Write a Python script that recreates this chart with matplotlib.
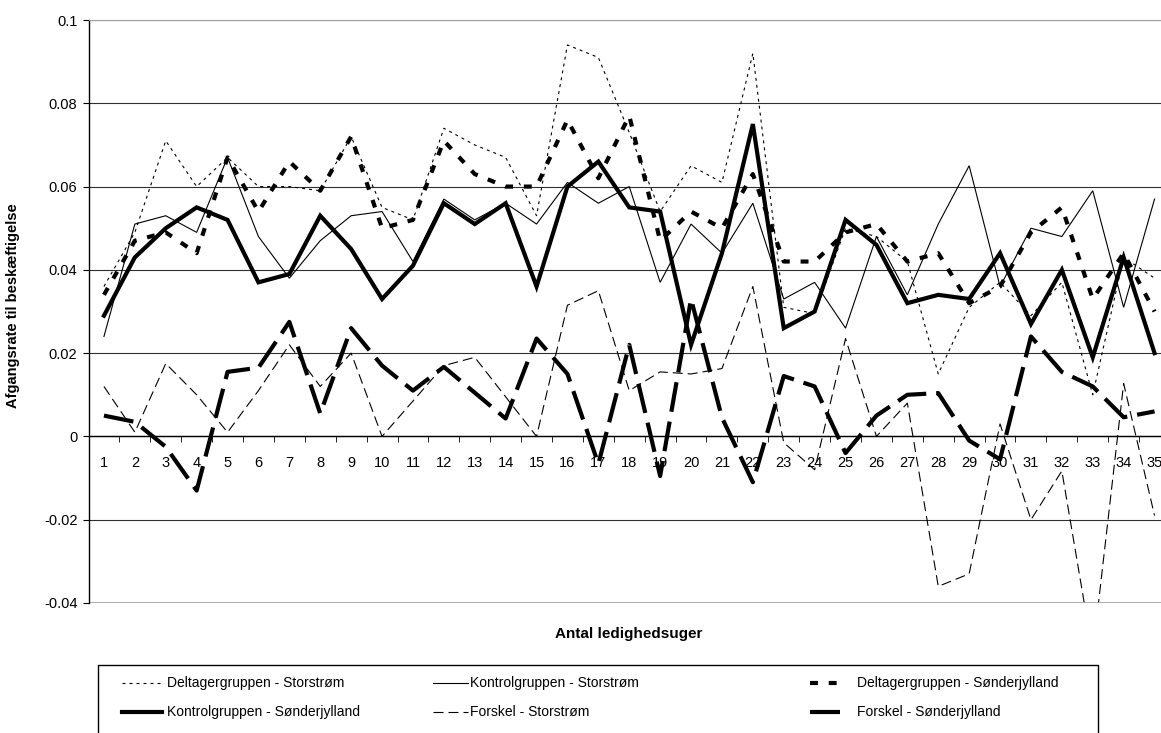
"""Afgangsrate til beskæftigelse efter antal ledighedsuger."""

import matplotlib
matplotlib.use("Agg")
import matplotlib.pyplot as plt
import numpy as np
from matplotlib.lines import Line2D
from matplotlib.patches import Rectangle

plt.rcParams["font.family"] = ["Liberation Sans", "DejaVu Sans"]

weeks = list(range(1, 36))

deltager_storstrom = [0.036, 0.049, 0.071, 0.060, 0.067, 0.060, 0.060, 0.059, 0.072, 0.055,
                      0.052, 0.074, 0.070, 0.067, 0.053, 0.094, 0.091, 0.073, 0.054, 0.065,
                      0.061, 0.092, 0.031, 0.0295, 0.050, 0.048, 0.042, 0.015, 0.031, 0.037,
                      0.029, 0.037, 0.010, 0.043, 0.038]
kontrol_storstrom = [0.024, 0.051, 0.053, 0.049, 0.067, 0.048, 0.038, 0.047, 0.053, 0.054,
                     0.042, 0.057, 0.052, 0.056, 0.051, 0.061, 0.056, 0.060, 0.037, 0.051,
                     0.044, 0.056, 0.033, 0.037, 0.026, 0.048, 0.034, 0.051, 0.065, 0.036,
                     0.050, 0.048, 0.059, 0.031, 0.057]
deltager_sonderjylland = [0.034, 0.047, 0.049, 0.044, 0.067, 0.054, 0.066, 0.059, 0.072, 0.050,
                          0.052, 0.071, 0.063, 0.060, 0.060, 0.076, 0.062, 0.077, 0.047, 0.054,
                          0.050, 0.063, 0.042, 0.042, 0.049, 0.051, 0.042, 0.044, 0.032, 0.036,
                          0.049, 0.055, 0.033, 0.044, 0.030]
kontrol_sonderjylland = [0.029, 0.043, 0.050, 0.055, 0.052, 0.037, 0.039, 0.053, 0.045, 0.033,
                         0.041, 0.056, 0.051, 0.056, 0.036, 0.060, 0.066, 0.055, 0.054, 0.022,
                         0.044, 0.075, 0.026, 0.030, 0.052, 0.046, 0.032, 0.034, 0.033, 0.044,
                         0.027, 0.040, 0.019, 0.043, 0.020]
forskel_storstrom = [0.012, 0.001, 0.0175, 0.010, 0.001, 0.011, 0.022, 0.012, 0.020, 0.000,
                     0.0085, 0.017, 0.019, 0.0095, 0.000, 0.0315, 0.035, 0.011, 0.0155, 0.015,
                     0.0163, 0.036, -0.0015, -0.008, 0.0235, 0.000, 0.008, -0.036, -0.033, 0.003,
                     -0.020, -0.0083, -0.052, 0.0127, -0.019]
forskel_sonderjylland = [0.005, 0.0035, -0.0025, -0.013, 0.0155, 0.0165, 0.0275, 0.0055, 0.026, 0.017,
                         0.011, 0.0167, 0.0105, 0.0043, 0.0235, 0.015, -0.0066, 0.022, -0.0095, 0.033,
                         0.0045, -0.011, 0.0145, 0.012, -0.004, 0.005, 0.010, 0.0104, -0.001, -0.0055,
                         0.024, 0.0155, 0.012, 0.0046, 0.006]

y_ticks = [-0.04, -0.02, 0, 0.02, 0.04, 0.06, 0.08, 0.1]
y_tick_labels = ["-0.04", "-0.02", "0", "0.02", "0.04", "0.06", "0.08", "0.1"]

series = [
    ("Deltagergruppen - Storstrøm", deltager_storstrom, dict(lw=0.8, dashes=(2.7, 3.6))),
    ("Kontrolgruppen - Storstrøm", kontrol_storstrom, dict(lw=0.8)),
    ("Deltagergruppen - Sønderjylland", deltager_sonderjylland, dict(lw=3.0, dashes=(1.9, 2.6))),
    ("Kontrolgruppen - Sønderjylland", kontrol_sonderjylland, dict(lw=3.0)),
    ("Forskel - Storstrøm", forskel_storstrom, dict(lw=0.8, dashes=(9, 4.5))),
    ("Forskel - Sønderjylland", forskel_sonderjylland, dict(lw=3.0, dashes=(7.2, 2.4))),
]

W, H = 1161, 733
fig = plt.figure(figsize=(W / 100, H / 100), dpi=100)


def fx(px):
    return px / W


def fy(py):
    return 1 - py / H


ax = fig.add_axes([fx(88.5), fy(603), fx(1081.5), 583 / H])

for name, values, style in series:
    ax.plot(weeks, values, color="black", label=name, solid_joinstyle="miter", **style)

ax.set_xlim(0.5, 35.5)
ax.set_ylim(-0.04, 0.1)
ax.set_yticks(y_ticks)
ax.set_yticklabels(y_tick_labels)
ax.set_xticks(weeks)
ax.set_xticks(np.arange(0.5, 36, 1), minor=True)

ax.spines["bottom"].set_position(("data", 0))
ax.spines["right"].set_visible(False)
ax.spines["top"].set_color("#a0a0a0")
ax.spines["left"].set_linewidth(1.0)
ax.spines["bottom"].set_linewidth(1.0)
ax.axhline(-0.04, color="#a0a0a0", lw=1.2, zorder=2.5)

ax.yaxis.grid(True, color="#303030", lw=0.8)
ax.tick_params(axis="y", direction="out", length=4, pad=4, labelsize=10.5)
ax.tick_params(axis="x", which="major", length=0, pad=14, labelsize=10.5)
ax.tick_params(axis="x", which="minor", direction="out", length=4.5)

ax.set_ylabel("Afgangsrate til beskæftigelse", fontsize=10.5, fontweight="bold")
ax.yaxis.set_label_coords(-0.063, 0.51)
# x title is centred on the plot area, below the legend-free band
fig.text(fx(629), fy(634), "Antal ledighedsuger", fontsize=11, fontweight="bold",
         ha="center", va="center")

# legend drawn by hand to match the column layout of the original
fig.add_artist(Rectangle((fx(98), fy(760)), fx(1000), (760 - 665) / H, transform=fig.transFigure,
                         fill=False, edgecolor="black", lw=1.0))
handle_x = [(122, 162), (433, 468), (810, 847)]
text_x = [167, 470, 857]
row_y = [683, 712]
for i, (name, values, style) in enumerate(series):
    row, col = divmod(i, 3)
    x0, x1 = handle_x[col]
    y = fy(row_y[row])
    fig.add_artist(Line2D([fx(x0), fx(x1)], [y, y], transform=fig.transFigure,
                          color="black", **style))
    fig.text(fx(text_x[col]), y, name, fontsize=10, ha="left", va="center")

fig.savefig("out.png", dpi=100)
